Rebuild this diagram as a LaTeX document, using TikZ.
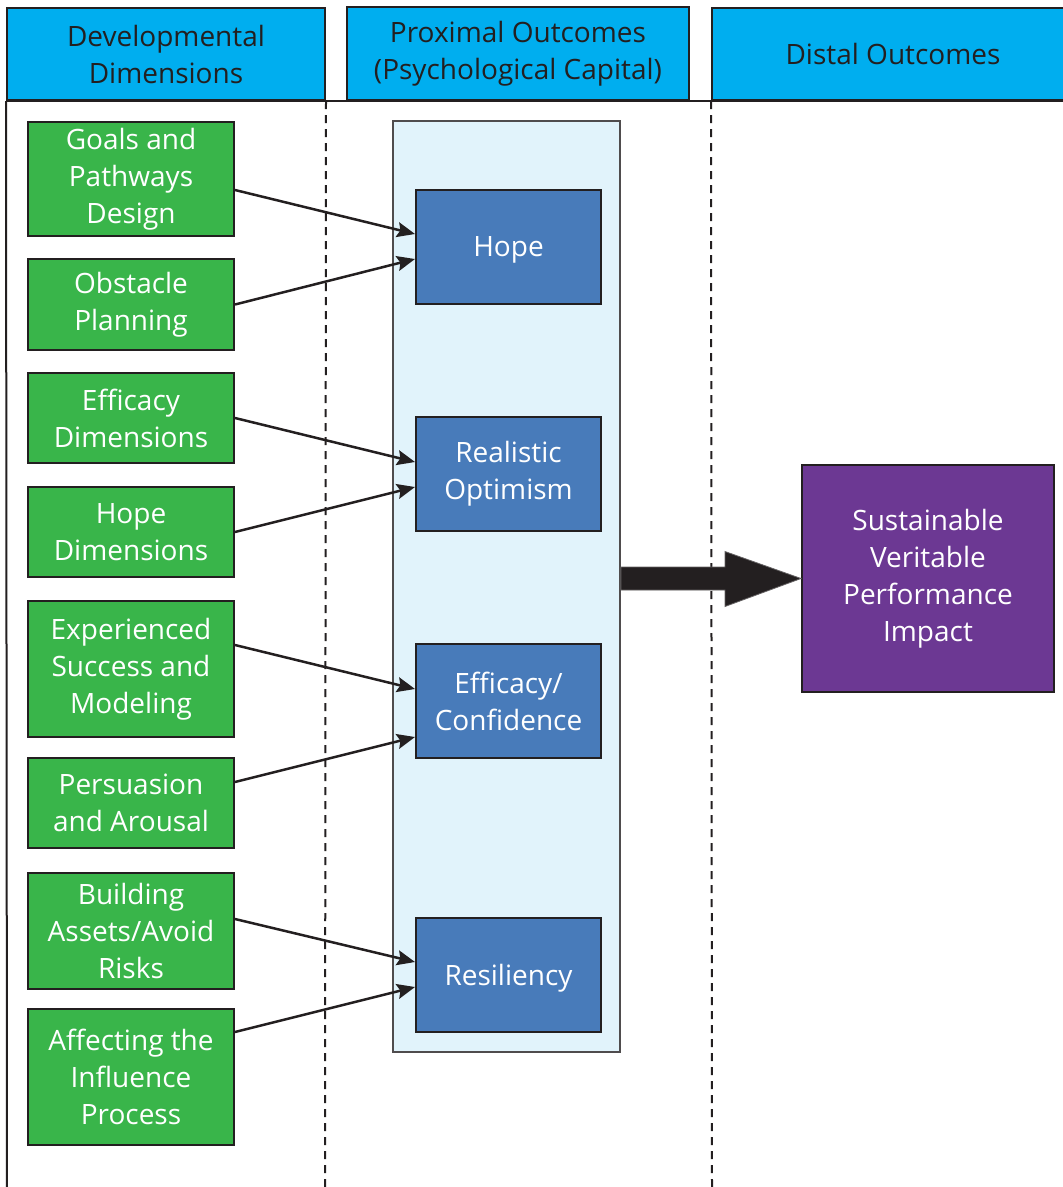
\documentclass[tikz,border=0pt]{standalone}
\usepackage{fontspec}
\setmainfont{Open Sans}
\usetikzlibrary{arrows.meta,calc}

\definecolor{inkdark}{HTML}{231F20}
\definecolor{headcyan}{HTML}{00AEEF}
\definecolor{devgreen}{HTML}{39B54A}
\definecolor{capblue}{HTML}{487BBA}
\definecolor{panelblue}{HTML}{E1F3FB}
\definecolor{distalpurple}{HTML}{6C3893}

\tikzset{
  boxfont/.style={font=\fontsize{28}{37}\selectfont, inner sep=0pt},
  boxtext/.style={boxfont, align=center},
  oneline/.style={boxfont, text height=20pt, text depth=0pt},
  headbox/.style={draw=inkdark, line width=2pt, fill=headcyan, text=inkdark},
  devbox/.style={boxtext, draw=inkdark, line width=2pt, fill=devgreen, text=white,
                 minimum width=206pt},
  capbox/.style={draw=inkdark, line width=2pt, fill=capblue, text=white,
                 minimum width=185pt, minimum height=114pt},
  outbox/.style={boxtext, draw=inkdark, line width=2pt, fill=distalpurple, text=white},
  panel/.style={draw=inkdark!80, line width=2pt, fill=panelblue, inner sep=0pt},
  conn/.style={draw=inkdark, line width=2.5pt,
               -{Stealth[length=18pt,width=15pt,inset=3pt]}},
  lane/.style={draw=inkdark, line width=2pt},
  lanedash/.style={draw=inkdark, line width=2pt, dash pattern=on 8pt off 6pt},
}

\begin{document}
\begin{tikzpicture}[x=1pt,y=-1pt]
  \useasboundingbox (0,0) rectangle (1063,1187);
  \clip (0,0) rectangle (1063,1187);

  % column headers
  \node[headbox, boxtext, minimum width=318pt, minimum height=92pt] (h1) at (166,54)
    {Developmental\\Dimensions};
  \node[headbox, boxtext, minimum width=342pt, minimum height=93pt] (h2) at (518,53.5)
    {Proximal Outcomes\\(Psychological Capital)};
  \node[headbox, oneline, minimum width=362pt, minimum height=92pt] (h3) at (893,54)
    {Distal Outcomes};

  % lane borders
  \coordinate (bl) at (7,1187);
  \coordinate (bm) at (325,1187);
  \coordinate (br) at (712,1187);
  \draw[lane] (h1.south west) -- (h3.south east);
  \draw[lane] (h1.south west) -- (bl);
  \draw[lanedash] (h1.south east) -- (bm);
  \draw[lanedash] (h3.south west) -- (br);

  % psychological capital panel
  \node[panel, minimum width=227pt, minimum height=931pt] (panel) at (506.5,586.5) {};

  % capital components
  \node[capbox, oneline] (hope) at (508.5,246.5) {Hope};
  \node[capbox, boxtext] (ro)   at (508.5,474)   {Realistic\\Optimism};
  \node[capbox, boxtext] (ec)   at (508.5,701)   {Efficacy/\\Confidence};
  \node[capbox, oneline] (res)  at (508.5,975)   {Resiliency};

  % developmental dimensions
  \node[devbox, minimum height=114pt] (g1) at (131,179)   {Goals and\\Pathways\\Design};
  \node[devbox, minimum height=91pt]  (g2) at (131,304.5) {Obstacle\\Planning};
  \node[devbox, minimum height=90pt]  (g3) at (131,418)   {Efficacy\\Dimensions};
  \node[devbox, minimum height=90pt]  (g4) at (131,532)   {Hope\\Dimensions};
  \node[devbox, minimum height=136pt] (g5) at (131,669)   {Experienced\\Success and\\Modeling};
  \node[devbox, minimum height=90pt]  (g6) at (131,803)   {Persuasion\\and Arousal};
  \node[devbox, minimum height=116pt] (g7) at (131,931)   {Building\\Assets/Avoid\\Risks};
  \node[devbox, minimum height=136pt] (g8) at (131,1077)  {Affecting the\\Influence\\Process};

  % distal outcome
  \node[outbox, minimum width=252pt, minimum height=227pt] (out) at (928,578.5)
    {Sustainable\\Veritable\\Performance\\Impact};

  % connectors
  \draw[conn] ([yshift=-11pt]g1.east) -- ([yshift=12.5pt]hope.west);
  \draw[conn] (g2.east) -- ([yshift=-12.5pt]hope.west);
  \draw[conn] (g3.east) -- ([yshift=12pt]ro.west);
  \draw[conn] (g4.east) -- ([yshift=-13pt]ro.west);
  \draw[conn] ([yshift=24pt]g5.east) -- ([yshift=12pt]ec.west);
  \draw[conn] ([yshift=21pt]g6.east) -- ([yshift=-36pt]ec.west);
  \draw[conn] ([yshift=12pt]g7.east) -- ([yshift=13pt]res.west);
  \draw[conn] ([yshift=45pt]g8.east) -- ([yshift=-12pt]res.west);

  % block arrow to the distal outcome
  \coordinate (bs) at (panel.east |- out.west);
  \coordinate (bt) at (out.west);
  \filldraw[fill=inkdark, draw=inkdark!70, line width=0.8pt]
    ($(bs)+(0,-11.5)$) -- ($(bs)+(104,-11.5)$) -- ($(bs)+(104,-27)$) -- (bt)
    -- ($(bs)+(104,28)$) -- ($(bs)+(104,11.5)$) -- ($(bs)+(0,11.5)$) -- cycle;
\end{tikzpicture}
\end{document}
